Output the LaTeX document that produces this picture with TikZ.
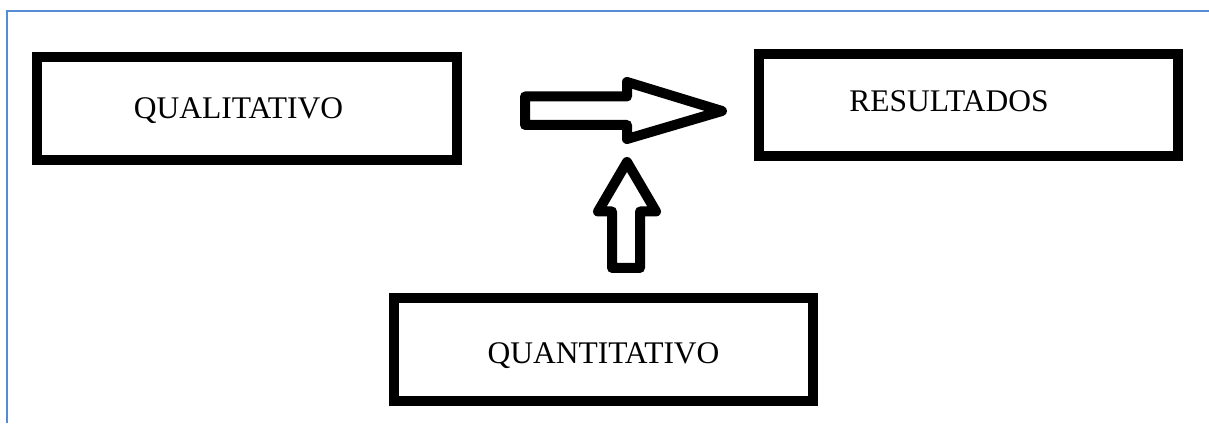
\documentclass[tikz,border=0pt]{standalone}
\usepackage{fontspec}
\setmainfont{Liberation Serif}
\usetikzlibrary{positioning}
\definecolor{framblue}{RGB}{84,141,212}
\begin{document}
\begin{tikzpicture}[x=1pt,y=1pt,
    box/.style={draw,shape=rectangle,line width=10pt,inner sep=0pt,
                minimum width=419pt,minimum height=102.5pt},
    lbl/.style={anchor=base,inner sep=0pt,font=\fontsize{31.5}{38}\selectfont},
    blockarrow/.style={draw,line width=10pt,line join=round}]
  \useasboundingbox (0,0) rectangle (1209,423);
  \draw[framblue,line width=1.8pt] (6.7,0) |- (1209,412.3);

  \node[box,minimum width=420pt] (qual) at (247,314.25) {};
  \node[box] (res)  at (968.5,318) {};
  \node[box] (quan) at (603.5,73.5) {};
  \node[lbl,xshift=-8.5pt,yshift=-10.25pt] (qualtext) at (qual) {QUALITATIVO};
  \node[lbl,xshift=-19.5pt,yshift=-6.7pt] (restext) at (res) {RESULTADOS};
  \node[lbl,yshift=-13.5pt] (quantext) at (quan) {QUANTITATIVO};

  \draw[blockarrow] (525,326.5) -- (627,326.5) -- (627,341) -- (722,312)
    -- (627,284) -- (627,298) -- (525,298) -- cycle;
  \draw[blockarrow] (612,155) -- (612,211.5) -- (598,211.5) -- (627,261)
    -- (656,211.5) -- (640,211.5) -- (640,155) -- cycle;
\end{tikzpicture}
\end{document}
